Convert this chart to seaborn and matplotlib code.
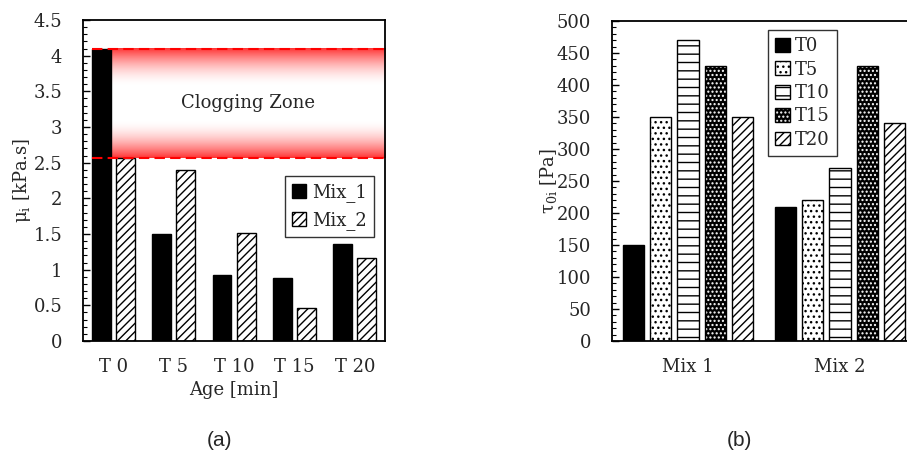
import numpy as np
import pandas as pd
import matplotlib
matplotlib.use('Agg')
import matplotlib.pyplot as plt
from matplotlib.patches import Patch, Rectangle
from matplotlib.ticker import MultipleLocator, FuncFormatter
import seaborn as sns

# data
ages = ['T 0', 'T 5', 'T 10', 'T 15', 'T 20']
mix1_visc = [4.1, 1.5, 0.92, 0.89, 1.36]
mix2_visc = [2.57, 2.4, 1.52, 0.46, 1.16]
clog_low, clog_high = 2.57, 4.1

mixes = ['Mix 1', 'Mix 2']
times = ['T0', 'T5', 'T10', 'T15', 'T20']
tau_mix1 = [150, 350, 470, 430, 350]
tau_mix2 = [210, 220, 270, 430, 340]

sns.set_style('ticks')
plt.rcParams['font.family'] = ['DejaVu Serif']
plt.rcParams['mathtext.fontset'] = 'dejavuserif'
plt.rcParams['hatch.linewidth'] = 1.0
FS = 13

df_a = pd.DataFrame({
    'Age': ages * 2,
    'Mix': ['Mix_1'] * len(ages) + ['Mix_2'] * len(ages),
    'mu': mix1_visc + mix2_visc,
})
df_b = pd.DataFrame({
    'Mix': [m for m in mixes for _ in times],
    'Time': times * len(mixes),
    'tau': tau_mix1 + tau_mix2,
})

fig = plt.figure(figsize=(9.07, 4.76), dpi=100)
ax1 = fig.add_axes([0.0915, 0.2836, 0.333, 0.6744])
ax2 = fig.add_axes([0.6748, 0.2836, 0.335, 0.6723])

# ---- (a) plastic viscosity ----
sns.barplot(data=df_a, x='Age', y='mu', hue='Mix', ax=ax1,
            palette=['black', 'white'], width=0.8, gap=0.22,
            edgecolor='black', linewidth=1, legend=False, zorder=2)
for p in ax1.containers[1]:
    p.set_hatch('////')

first = ax1.containers[0][0]
x_start = first.get_x() + first.get_width()
grad = np.linspace(0, 1, 200)
alpha = 0.8 * np.clip(1 - grad / 0.35, 0, 1) ** 1.8 + 0.8 * np.clip((grad - 0.65) / 0.35, 0, 1) ** 1.8
rgba = np.zeros((200, 1, 4))
rgba[..., 0] = 1.0
rgba[..., 3] = alpha[:, None]
ax1.imshow(rgba, extent=[x_start, 4.5, clog_low, clog_high], aspect='auto',
           origin='lower', zorder=1, interpolation='bilinear')
ax1.hlines([clog_low, clog_high], first.get_x(), 4.5, colors='#ff0000',
           linestyles=(0, (5, 2.5)), linewidth=1.5, zorder=3)
ax1.set_xlim(-0.5, 4.5)
ax1.set_ylim(0, 4.5)
ax1.text((x_start + 4.5) / 2, (clog_low + clog_high) / 2, 'Clogging Zone',
         ha='center', va='center', fontsize=FS, zorder=4)

ax1.yaxis.set_major_locator(MultipleLocator(0.5))
ax1.yaxis.set_minor_locator(MultipleLocator(0.1))
ax1.yaxis.set_major_formatter(FuncFormatter(lambda v, pos: f'{v:g}'))
ax1.set_xlabel('Age [min]', fontsize=FS, labelpad=4)
ax1.set_ylabel(r'$\mathrm{\mu_i}$ [kPa.s]', fontsize=FS, labelpad=0)

leg1 = ax1.legend(handles=[Patch(facecolor='black', edgecolor='black'),
                           Patch(facecolor='white', edgecolor='black', hatch='////')],
                  labels=['Mix_1', 'Mix_2'], loc='upper right',
                  bbox_to_anchor=(0.963, 0.514), fontsize=FS, fancybox=False,
                  handlelength=0.8, handleheight=0.8, handletextpad=0.3,
                  labelspacing=0.5, borderpad=0.4, borderaxespad=0)
leg1.get_frame().set_edgecolor('black')
leg1.get_frame().set_linewidth(1.0)

# ---- (b) yield stress ----
sns.barplot(data=df_b, x='Mix', y='tau', hue='Time', ax=ax2,
            palette=['black', 'white', 'white', 'black', 'white'],
            width=0.9, gap=0.22, edgecolor='black', linewidth=1,
            legend=False, zorder=2)
hatches = [None, '...', '--', None, '////']
for cont, h in zip(ax2.containers, hatches):
    for p in cont:
        if h:
            p.set_hatch(h)
for p in ax2.containers[3]:
    p.set_edgecolor('white')
    p.set_hatch('....')
    p.set_linewidth(0)
    ax2.add_patch(Rectangle((p.get_x(), 0), p.get_width(), p.get_height(),
                            fill=False, edgecolor='black', linewidth=1, zorder=2.5))

ax2.set_xlim(-0.5, 1.5)
ax2.set_ylim(0, 500)
ax2.yaxis.set_major_locator(MultipleLocator(50))
ax2.yaxis.set_minor_locator(MultipleLocator(10))
ax2.set_xlabel('')
ax2.set_ylabel(r'$\mathrm{\tau_{0i}}$ [Pa]', fontsize=FS, labelpad=-2)

h15 = (Patch(facecolor='black', edgecolor='white', hatch='....', linewidth=0),
       Patch(facecolor='none', edgecolor='black'))
handles = [Patch(facecolor='black', edgecolor='black'),
           Patch(facecolor='white', edgecolor='black', hatch='...'),
           Patch(facecolor='white', edgecolor='black', hatch='--'),
           h15,
           Patch(facecolor='white', edgecolor='black', hatch='////')]
leg2 = ax2.legend(handles=handles, labels=times, loc='upper left',
                  bbox_to_anchor=(0.513, 0.972), fontsize=FS, fancybox=False,
                  handlelength=0.8, handleheight=0.8, handletextpad=0.3,
                  labelspacing=0.3, borderpad=0.4, borderaxespad=0)
leg2.get_frame().set_edgecolor('black')
leg2.get_frame().set_linewidth(1.0)

for ax in (ax1, ax2):
    for s in ax.spines.values():
        s.set_visible(True)
        s.set_color('black')
        s.set_linewidth(1.3)
    ax.tick_params(axis='y', which='major', direction='in', length=5, width=1,
                   labelsize=FS, pad=15, color='black')
    ax.tick_params(axis='y', which='minor', direction='in', length=3, width=0.8,
                   color='black')
    ax.tick_params(axis='x', length=0, labelsize=FS, pad=12)

fig.text(0.242, 0.075, '(a)', ha='center', va='center', fontsize=15,
         family='Liberation Sans')
fig.text(0.815, 0.075, '(b)', ha='center', va='center', fontsize=15,
         family='Liberation Sans')

fig.savefig('out.png', dpi=100)
